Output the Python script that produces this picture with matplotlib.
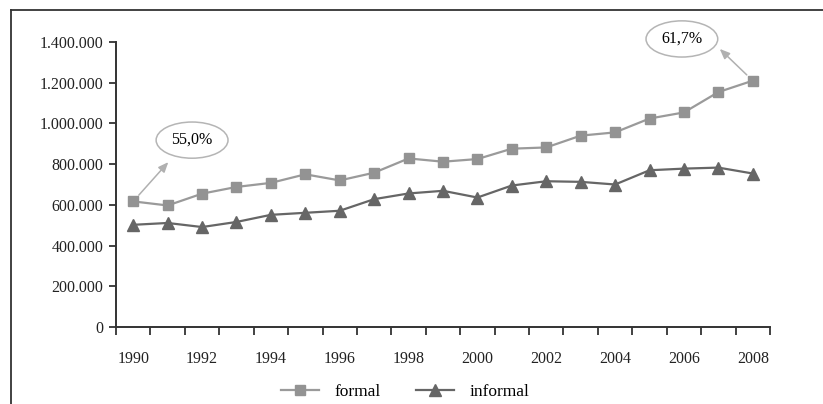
import numpy as np
import matplotlib
matplotlib.use('Agg')
import matplotlib.pyplot as plt
from matplotlib.lines import Line2D

plt.rcParams['font.family'] = ['Liberation Serif', 'DejaVu Serif']

# data
years = list(range(1990, 2009))
formal = [617000, 597000, 655000, 688000, 708000, 750000, 720000, 758000, 828000,
          812000, 825000, 876000, 882000, 940000, 956000, 1024000, 1054000, 1154000, 1210000]
informal = [502000, 511000, 491000, 516000, 551000, 561000, 571000, 628000, 656000,
            669000, 636000, 695000, 716000, 713000, 700000, 770000, 778000, 783000, 754000]
labels = [str(y) if y % 2 == 0 else '' for y in years]

col_formal = '#9a9a9a'
col_informal = '#666666'
dark = '#333333'

fig = plt.figure(figsize=(8.23, 4.04), dpi=100)
ax = fig.add_axes([116 / 823, 77 / 404, (770 - 116) / 823, 285 / 404])

x = np.arange(len(years))
ax.plot(x, formal, color=col_formal, lw=1.6, marker='s', ms=7,
        mfc='#939393', mec='#939393', label='formal', clip_on=False)
ax.plot(x, informal, color=col_informal, lw=1.6, marker='^', ms=8.5,
        mfc='#666666', mec='#666666', label='informal', clip_on=False)

ax.set_xlim(-0.5, len(years) - 0.5)
ax.set_ylim(0, 1400000)
ax.set_yticks(np.arange(0, 1400001, 200000))
ax.set_yticklabels(['0' if v == 0 else f'{v:,}'.replace(',', '.') for v in range(0, 1400001, 200000)])
ax.set_xticks(x)
ax.set_xticklabels(labels)
ax.tick_params(axis='x', which='major', length=0, pad=17)
ax.set_xticks(np.arange(-0.5, len(years), 1), minor=True)
ax.tick_params(axis='x', which='minor', length=6, width=1.3, color=dark, direction='out')
ax.tick_params(axis='y', length=5, width=1.3, color=dark, pad=4)
ax.tick_params(labelsize=11.5, labelcolor='#222222')

for s in ['top', 'right']:
    ax.spines[s].set_visible(False)
for s in ['left', 'bottom']:
    ax.spines[s].set_color(dark)
    ax.spines[s].set_linewidth(1.4)

# callouts
ell = dict(boxstyle='ellipse,pad=0.3', fc='white', ec='#b5b5b5', lw=1.1)
ax.text(1.71, 918000, '55,0%', ha='center', va='center', fontsize=11.5, bbox=ell, zorder=5)
ax.annotate('', xy=(1.02, 810000), xytext=(0, formal[0]),
            arrowprops=dict(arrowstyle='-|>,head_length=0.6,head_width=0.25', color='#b0b0b0',
                            lw=1.1, shrinkA=6, shrinkB=0))
ax.text(15.94, 1415000, '61,7%', ha='center', va='center', fontsize=11.5, bbox=ell,
        zorder=5, clip_on=False)
ax.annotate('', xy=(17.04, 1366000), xytext=(18, formal[-1]), annotation_clip=False,
            arrowprops=dict(arrowstyle='-|>,head_length=0.6,head_width=0.25', color='#b0b0b0',
                            lw=1.1, shrinkA=6, shrinkB=0))

# frame (left and top only)
fig.add_artist(Line2D([11 / 823, 11 / 823], [0, 1 - 10 / 404], color=dark, lw=1.3))
fig.add_artist(Line2D([11 / 823, 1], [1 - 10 / 404, 1 - 10 / 404], color=dark, lw=1.3))

fig.legend(loc='center', bbox_to_anchor=(405 / 823, 1 - 392 / 404), ncol=2, frameon=False,
           fontsize=12.5, handlelength=2.2, columnspacing=2.0, handletextpad=0.9)

plt.savefig('out.png', dpi=100)
